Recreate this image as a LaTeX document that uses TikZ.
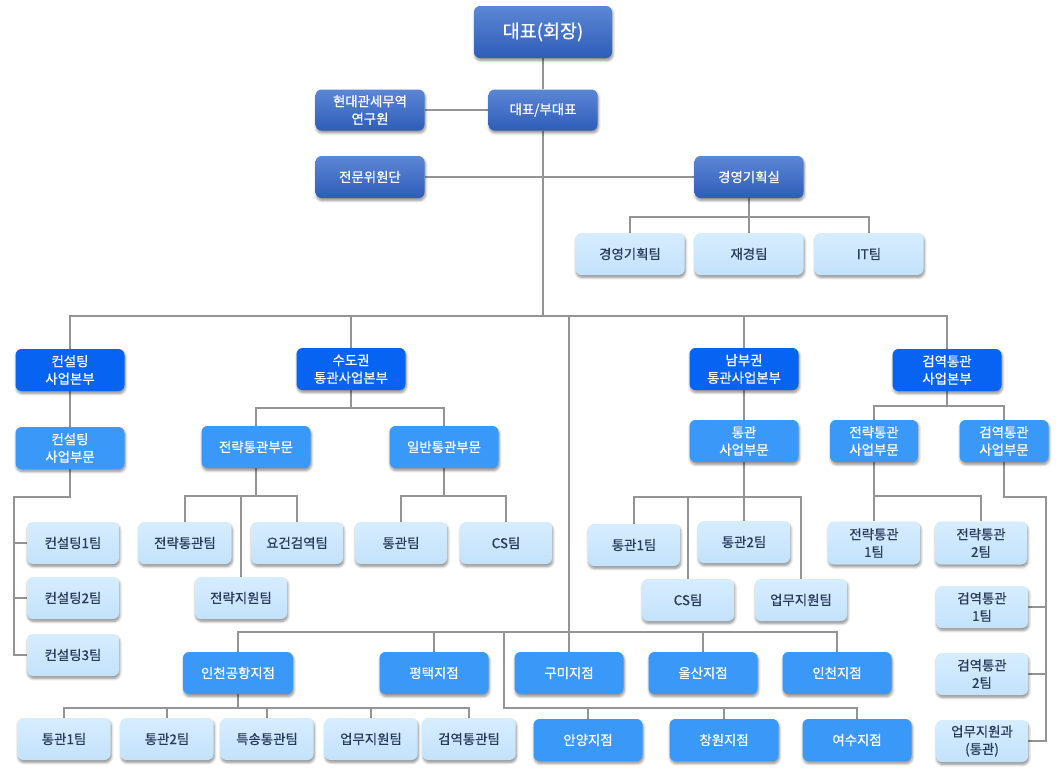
\documentclass[tikz,border=0pt]{standalone}
\usepackage{fontspec}
\setmainfont{Noto Sans CJK KR}[RawFeature={embolden=0.6}]
\usetikzlibrary{shadows.blur}

\definecolor{execTop}{HTML}{5C87D6}
\definecolor{execBot}{HTML}{2E5DB8}
\definecolor{hqBlue}{HTML}{0764F2}
\definecolor{divBlue}{HTML}{3A98F9}
\definecolor{teamTop}{HTML}{D6EDFF}
\definecolor{teamBot}{HTML}{C3E2FB}
\definecolor{teamText}{HTML}{263B5B}
\definecolor{linkGray}{HTML}{949494}

\pgfdeclarelayer{links}
\pgfsetlayers{links,main}

\tikzset{
  box/.style={rounded corners=6pt, inner sep=0pt, align=center,
    minimum height=42pt, minimum width=109pt,
    font=\fontsize{13.4}{17.5}\selectfont,
    blur shadow={shadow xshift=0.8pt, shadow yshift=-2.4pt,
      shadow blur radius=2.6pt, shadow blur steps=5, shadow opacity=45}},
  execbox/.style={box, top color=execTop, bottom color=execBot, text=white},
  hqbox/.style={box, fill=hqBlue, text=white},
  divbox/.style={box, fill=divBlue, text=white},
  teambox/.style={box, top color=teamTop, bottom color=teamBot,
    text=teamText, minimum width=92pt},
  link/.style={draw=linkGray, line width=1.1pt},
}

\begin{document}
\begin{tikzpicture}[x=1pt, y=-1pt]
\useasboundingbox (0,0) rectangle (1062,777);

% executive level
\node[execbox, minimum width=138pt, minimum height=52pt,
      font=\fontsize{18.5}{22}\selectfont] (ceo) at (543,32) {대표(회장)};
\node[execbox, minimum height=41pt] (vice) at (543,110) {대표/부대표};
\node[execbox, minimum height=41pt] (inst) at (370,110) {현대관세무역\\연구원};
\node[execbox] (experts) at (370,177) {전문위원단};
\node[execbox] (plan) at (749,177) {경영기획실};
\node[teambox, minimum width=109pt] (planT) at (630,254) {경영기획팀};
\node[teambox, minimum width=109pt] (finT) at (749,254) {재경팀};
\node[teambox, minimum width=109pt] (itT) at (869,254) {IT팀};

% business headquarters
\node[hqbox] (consHQ) at (70,370) {컨설팅\\사업본부};
\node[hqbox] (capHQ) at (351,369) {수도권\\통관사업본부};
\node[hqbox] (southHQ) at (744,369) {남부권\\통관사업본부};
\node[hqbox] (quarHQ) at (947,370) {검역통관\\사업본부};

% divisions
\node[divbox] (consDiv) at (70,448) {컨설팅\\사업부문};
\node[divbox] (stratDiv) at (256,447) {전략통관부문};
\node[divbox] (genDiv) at (444,447) {일반통관부문};
\node[divbox] (custDiv) at (744,441) {통관\\사업부문};
\node[divbox, minimum width=88pt] (sDiv) at (874,441) {전략통관\\사업부문};
\node[divbox, minimum width=89pt] (qDiv) at (1004,441) {검역통관\\사업부문};

% teams
\node[teambox] (cons1) at (73,543) {컨설팅1팀};
\node[teambox] (cons2) at (73,598) {컨설팅2팀};
\node[teambox] (cons3) at (73,655) {컨설팅3팀};
\node[teambox, minimum width=93pt] (stratT) at (185,543) {전략통관팀};
\node[teambox] (reqT) at (297,543) {요건검역팀};
\node[teambox] (supT) at (241,598) {전략지원팀};
\node[teambox] (genT) at (401,543) {통관팀};
\node[teambox] (csT) at (506,543) {CS팀};
\node[teambox] (c1T) at (634,545) {통관1팀};
\node[teambox] (c2T) at (744,542) {통관2팀};
\node[teambox] (cscT) at (688,600) {CS팀};
\node[teambox] (opT) at (801,600) {업무지원팀};
\node[teambox, minimum height=43pt] (s1T) at (874,543) {전략통관\\1팀};
\node[teambox, minimum height=43pt] (s2T) at (981,543) {전략통관\\2팀};
\node[teambox] (q1T) at (982,607) {검역통관\\1팀};
\node[teambox] (q2T) at (982,674) {검역통관\\2팀};
\node[teambox] (qSup) at (982,741) {업무지원과\\(통관)};

% branch offices
\node[divbox, minimum width=110pt] (airB) at (238,673) {인천공항지점};
\node[divbox] (ptB) at (434,673) {평택지점};
\node[divbox] (gumiB) at (569,673) {구미지점};
\node[divbox] (ulsB) at (703,673) {울산지점};
\node[divbox] (icB) at (837,673) {인천지점};
\node[teambox, minimum width=93pt] (t1) at (64,739) {통관1팀};
\node[teambox, minimum width=93pt] (t2) at (167,739) {통관2팀};
\node[teambox, minimum width=93pt] (t3) at (267,739) {특송통관팀};
\node[teambox, minimum width=93pt] (t4) at (371,739) {업무지원팀};
\node[teambox, minimum width=93pt] (t5) at (469,739) {검역통관팀};
\node[divbox] (ayB) at (588,740) {안양지점};
\node[divbox] (cwB) at (724,740) {창원지점};
\node[divbox] (ysB) at (857,740) {여수지점};

% bus levels and rails
\coordinate (busTop) at (0,217);
\coordinate (busMain) at (0,316);
\coordinate (busCap) at (0,408);
\coordinate (busQuar) at (0,406);
\coordinate (busStrat) at (0,496);
\coordinate (busCust) at (0,497);
\coordinate (busBr) at (0,632);
\coordinate (busLow) at (0,708);
\coordinate (consRail) at (14,497);
\coordinate (quarRail) at (1046,497);
\coordinate (brJoinA) at (504,632);
\coordinate (brJoinB) at (504,708);

\begin{pgfonlayer}{links}
% executive links
\draw[link] (ceo) -- (vice);
\draw[link] (inst) -- (vice);
\draw[link] (experts) -- (plan);
\draw[link] (plan) -- (finT);
\draw[link] (planT.north) |- (busTop -| itT.north) -- (itT.north);
\draw[link] (vice.south) -- (vice.south |- busMain);

% main bus to headquarters
\draw[link] (consHQ.north) |- (busMain -| quarHQ.north) -- (quarHQ.north);
\draw[link] (capHQ.north) -- (capHQ.north |- busMain);
\draw[link] (southHQ.north) -- (southHQ.north |- busMain);
\draw[link] (gumiB.north) -- (gumiB.north |- busMain);

% consulting
\draw[link] (consHQ) -- (consDiv);
\draw[link] (consDiv.south) |- (consRail) |- (cons3.west);
\draw[link] (cons1.west) -- (cons1.west -| consRail);
\draw[link] (cons2.west) -- (cons2.west -| consRail);

% capital region
\draw[link] (capHQ.south) -- (capHQ.south |- busCap);
\draw[link] (stratDiv.north) |- (busCap -| genDiv.north) -- (genDiv.north);
\draw[link] (stratDiv.south) -- (stratDiv.south |- busStrat);
\draw[link] (stratT.north) |- (busStrat -| reqT.north) -- (reqT.north);
\draw[link] (supT.north) -- (supT.north |- busStrat);
\draw[link] (genDiv.south) -- (genDiv.south |- busStrat);
\draw[link] (genT.north) |- (busStrat -| csT.north) -- (csT.north);

% southern region
\draw[link] (southHQ) -- (custDiv);
\draw[link] (custDiv) -- (c2T);
\draw[link] (c1T.north) |- (busCust -| opT.north) -- (opT.north);
\draw[link] (cscT.north) -- (cscT.north |- busCust);

% quarantine customs
\draw[link] (quarHQ.south) -- (quarHQ.south |- busQuar);
\draw[link] (sDiv.north) |- (busQuar -| qDiv.north) -- (qDiv.north);
\draw[link] (sDiv) -- (s1T);
\draw[link] (s1T.north |- busStrat) -| (s2T.north);
\draw[link] (qDiv.south) |- (quarRail) |- (qSup.east);
\draw[link] (q1T.east) -- (q1T.east -| quarRail);
\draw[link] (q2T.east) -- (q2T.east -| quarRail);

% branches
\draw[link] (airB.north) |- (busBr -| icB.north) -- (icB.north);
\draw[link] (ptB.north) -- (ptB.north |- busBr);
\draw[link] (ulsB.north) -- (ulsB.north |- busBr);
\draw[link] (brJoinA) -- (brJoinB) -| (ysB.north);
\draw[link] (ayB.north) -- (ayB.north |- busLow);
\draw[link] (cwB.north) -- (cwB.north |- busLow);
\draw[link] (airB.south) -- (airB.south |- busLow);
\draw[link] (t1.north) |- (busLow -| t5.north) -- (t5.north);
\draw[link] (t2.north) -- (t2.north |- busLow);
\draw[link] (t3.north) -- (t3.north |- busLow);
\draw[link] (t4.north) -- (t4.north |- busLow);
\end{pgfonlayer}
\end{tikzpicture}
\end{document}
